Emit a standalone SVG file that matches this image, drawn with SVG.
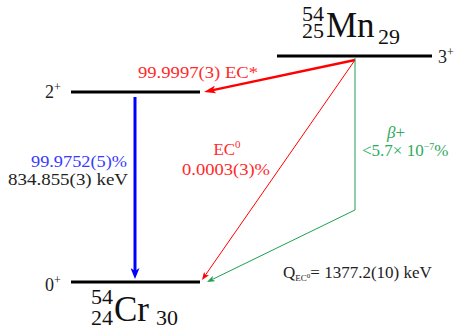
<svg xmlns="http://www.w3.org/2000/svg" width="464" height="331" viewBox="0 0 464 331" font-family="'Liberation Serif', 'Times New Roman', serif">
<style>
.lvl{stroke:#000;stroke-width:3;}
.jp{font-size:18px;fill:#222;}
.sup{font-size:12px;}
.big{font-size:35px;fill:#111;}
.iso{font-size:22px;fill:#111;}
.rt{fill:#ff2a2a;font-size:17px;}
.bt{fill:#3a3aff;font-size:17px;}
.gt{fill:#2eaa5e;font-size:17px;}
.kt{fill:#222;font-size:17px;}
</style>
<defs>
<marker id="mb" viewBox="0 0 11 9" refX="3" refY="4.5" markerWidth="11" markerHeight="9" orient="auto" markerUnits="userSpaceOnUse"><path d="M0,0 L11,4.5 L0,9 L3,4.5 z" fill="#0000ff"/></marker>
<marker id="mr" viewBox="0 0 12 8" refX="3" refY="4" markerWidth="12" markerHeight="8" orient="auto" markerUnits="userSpaceOnUse"><path d="M0,0 L12,4 L0,8 L3,4 z" fill="#ff0000"/></marker>
<marker id="mrt" viewBox="0 0 8 6" refX="2" refY="3" markerWidth="8" markerHeight="6" orient="auto" markerUnits="userSpaceOnUse"><path d="M0,0 L8,3 L0,6 L2,3 z" fill="#ff0000"/></marker>
<marker id="mg" viewBox="0 0 8 6" refX="2" refY="3" markerWidth="8" markerHeight="6" orient="auto" markerUnits="userSpaceOnUse"><path d="M0,0 L8,3 L0,6 L2,3 z" fill="#1fa050"/></marker>
</defs>

<g id="mn54">
<line class="lvl" x1="277" y1="56" x2="432" y2="56"/>
<text class="iso" x="302" y="21">54</text>
<text class="iso" x="302" y="38">25</text>
<text class="big" x="326" y="37">Mn</text>
<text class="iso" x="378" y="44">29</text>
<text class="jp" x="438" y="63">3<tspan class="sup" dy="-7">+</tspan></text>
</g>

<g id="cr54-2">
<line class="lvl" x1="71" y1="92" x2="200" y2="92"/>
<text class="jp" x="45" y="98">2<tspan class="sup" dy="-7">+</tspan></text>
</g>

<g id="cr54-0">
<line class="lvl" x1="71" y1="282" x2="200" y2="282"/>
<text class="jp" x="45" y="291">0<tspan class="sup" dy="-7">+</tspan></text>
<text class="iso" x="91" y="304">54</text>
<text class="iso" x="91" y="325">24</text>
<text class="big" x="114" y="321">Cr</text>
<text class="iso" x="156" y="325">30</text>
</g>

<g id="connectors">
<line x1="135" y1="97" x2="135" y2="271" stroke="#0000ff" stroke-width="3" marker-end="url(#mb)"/>
<line x1="355" y1="60" x2="212.8" y2="90.1" stroke="#ff0000" stroke-width="2.5" marker-end="url(#mr)"/>
<line x1="355" y1="60" x2="205.4" y2="275.1" stroke="#ff0000" stroke-width="1" marker-end="url(#mrt)"/>
<polyline points="355,58 355,210 212.4,279.4" fill="none" stroke="#1fa050" stroke-width="1" marker-end="url(#mg)"/>
</g>

<g id="labels">
<text class="rt" x="138" y="78" textLength="120" lengthAdjust="spacingAndGlyphs">99.9997(3) EC*</text>
<text class="rt" x="227" y="155" text-anchor="middle">EC<tspan font-size="11" dy="-7">0</tspan></text>
<text class="rt" x="182" y="175" textLength="88" lengthAdjust="spacingAndGlyphs">0.0003(3)%</text>
<text class="bt" x="31" y="167" textLength="96" lengthAdjust="spacingAndGlyphs">99.9752(5)%</text>
<text class="kt" x="8" y="185" textLength="120" lengthAdjust="spacingAndGlyphs">834.855(3) keV</text>
<text class="gt" x="387" y="138" font-style="italic">β<tspan font-style="normal">+</tspan></text>
<text class="gt" x="362" y="156">&lt;5.7× 10<tspan font-size="10" dy="-6">−7</tspan><tspan dy="6">%</tspan></text>
<text class="kt" x="283" y="278">Q<tspan font-size="9" dy="3">EC</tspan><tspan font-size="7" dy="-3">0</tspan><tspan dy="0">= 1377.2(10) keV</tspan></text>
</g>
</svg>
